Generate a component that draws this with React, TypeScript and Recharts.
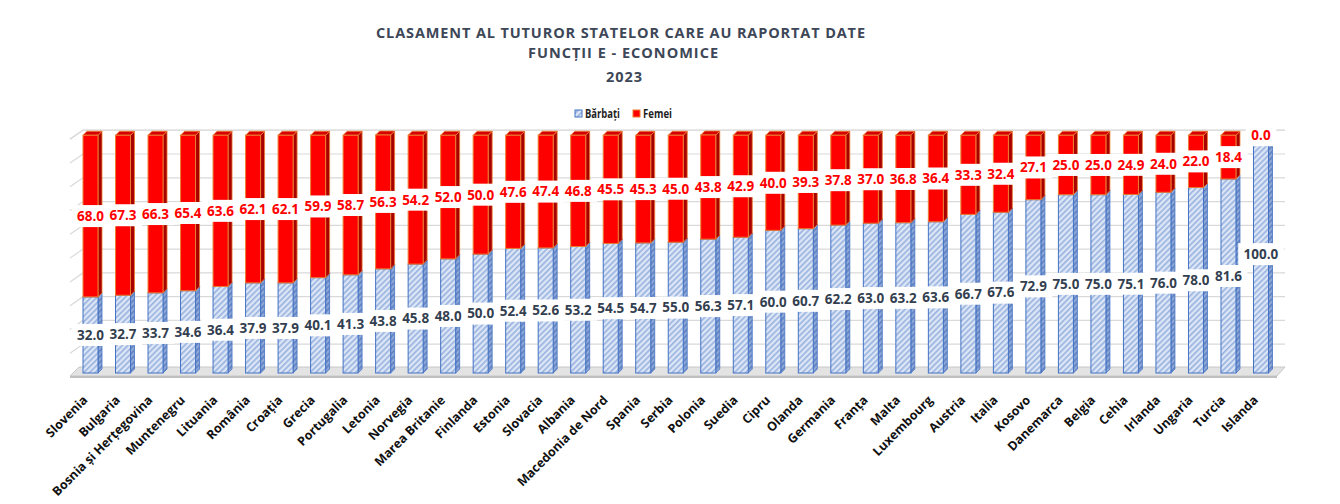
import React from 'react';
import { BarChart, Bar, XAxis, YAxis, CartesianGrid, LabelList } from 'recharts';

const countries = [
  'Slovenia', 'Bulgaria', 'Bosnia și Herțegovina', 'Muntenegru', 'Lituania', 'România', 'Croația',
  'Grecia', 'Portugalia', 'Letonia', 'Norvegia', 'Marea Britanie', 'Finlanda', 'Estonia', 'Slovacia',
  'Albania', 'Macedonia de Nord', 'Spania', 'Serbia', 'Polonia', 'Suedia', 'Cipru', 'Olanda',
  'Germania', 'Franța', 'Malta', 'Luxembourg', 'Austria', 'Italia', 'Kosovo', 'Danemarca', 'Belgia',
  'Cehia', 'Irlanda', 'Ungaria', 'Turcia', 'Islanda',
];

const barbati = [
  32.0, 32.7, 33.7, 34.6, 36.4, 37.9, 37.9, 40.1, 41.3, 43.8, 45.8, 48.0, 50.0, 52.4, 52.6, 53.2,
  54.5, 54.7, 55.0, 56.3, 57.1, 60.0, 60.7, 62.2, 63.0, 63.2, 63.6, 66.7, 67.6, 72.9, 75.0, 75.0,
  75.1, 76.0, 78.0, 81.6, 100.0,
];

const femei = [
  68.0, 67.3, 66.3, 65.4, 63.6, 62.1, 62.1, 59.9, 58.7, 56.3, 54.2, 52.0, 50.0, 47.6, 47.4, 46.8,
  45.5, 45.3, 45.0, 43.8, 42.9, 40.0, 39.3, 37.8, 37.0, 36.8, 36.4, 33.3, 32.4, 27.1, 25.0, 25.0,
  24.9, 24.0, 22.0, 18.4, 0.0,
];

const yTicks = [0, 10, 20, 30, 40, 50, 60, 70, 80, 90, 100];

const titleLines = [
  'CLASAMENT AL TUTUROR STATELOR CARE AU RAPORTAT DATE',
  'FUNCȚII E - ECONOMICE',
  '2023',
];

const data = countries.map((name, i) => ({ name, barbati: barbati[i], femei: femei[i] }));

const FONT = '"Open Sans", "Noto Sans", sans-serif';
const DEPTH = 4;
const GRID = '#d9d9d9';

const palette: Record<string, any> = {
  blue: { front: 'url(#hatchFront)', side: 'url(#hatchSide)', top: '#b4c7e7', stroke: '#4472c4' },
  red: { front: '#ff0000', side: '#a80000', top: '#d60000', stroke: '#ed7d31' },
};

function Box3D(props: any) {
  const { x, y, width: w, height: h, kind } = props;
  if (!(h > 0.5)) return null;
  const d = DEPTH;
  const c = palette[kind];
  return (
    <g>
      <polygon
        points={`${x + w},${y + h} ${x + w},${y} ${x + w + d},${y - d} ${x + w + d},${y + h - d}`}
        fill={c.side}
        stroke={c.stroke}
        strokeWidth={0.8}
      />
      <polygon
        points={`${x},${y} ${x + d},${y - d} ${x + w + d},${y - d} ${x + w},${y}`}
        fill={c.top}
        stroke={c.stroke}
        strokeWidth={0.8}
      />
      <rect x={x} y={y} width={w} height={h} fill={c.front} stroke={c.stroke} strokeWidth={1} />
    </g>
  );
}

const valueLabel = (color: string) => (p: any) => {
  const { x, y, width, height, value } = p;
  const cx = Number(x) + Number(width) / 2;
  const cy = Number(y) + Number(height) / 2;
  const txt = Number(value).toFixed(1);
  const w = txt.length * 7.5 + 8;
  return (
    <g>
      <rect x={cx - w / 2} y={cy - 11} width={w} height={22} fill="#ffffff" />
      <text
        x={cx}
        y={cy}
        dy="0.36em"
        textAnchor="middle"
        fontFamily={FONT}
        fontWeight={700}
        fontSize={13.5}
        fill={color}
      >
        {txt}
      </text>
    </g>
  );
};

function CountryTick(props: any) {
  const { x, y, payload } = props;
  const tx = x - 2;
  const ty = y + 28;
  return (
    <text
      x={tx}
      y={ty}
      transform={`rotate(-45 ${tx} ${ty})`}
      textAnchor="end"
      fontFamily={FONT}
      fontWeight={700}
      fontSize={12.5}
      fill="#111111"
    >
      {payload.value}
    </text>
  );
}

// back wall lines with a short slanted piece on the left, floor for the 0 line
function gridLine(p: any) {
  const { x1, x2, y1, y, height, index } = p;
  const bottom = y + height;
  if (Math.abs(y1 - bottom) < 1) {
    return (
      <g key={`floor-${index}`}>
        <polygon
          points={`${x1 - 4},${y1 + 3} ${x1 + 5},${y1 - 6} ${x2 + 8},${y1 - 6} ${x2},${y1 + 3}`}
          fill="#e3e3e3"
          stroke="#c8c8c8"
          strokeWidth={1}
        />
        <rect x={x1 - 4} y={y1 + 3} width={x2 - x1 + 4} height={2} fill="#bfbfbf" />
      </g>
    );
  }
  return (
    <polyline
      key={`grid-${index}`}
      points={`${x1 - 4},${y1 + 4} ${x1 + 9},${y1 - 5} ${x2 + 8},${y1 - 5}`}
      fill="none"
      stroke={GRID}
      strokeWidth={1.2}
    />
  );
}

export default function App() {
  return (
    <div
      style={{
        position: 'relative',
        width: 1328,
        height: 497,
        margin: '-2px 0 0 -2px',
        border: '1px solid #d9d9d9',
        background: '#ffffff',
        overflow: 'hidden',
      }}
    >
      <BarChart
        width={1328}
        height={497}
        data={data}
        margin={{ top: 128, right: 58, left: 67, bottom: 11 }}
        barSize={15}
      >
        <CartesianGrid vertical={false} horizontal={gridLine} />
        <XAxis
          dataKey="name"
          interval={0}
          height={120}
          tickLine={false}
          axisLine={false}
          tickSize={0}
          tickMargin={0}
          tick={<CountryTick />}
        />
        <YAxis hide domain={[0, 100]} ticks={yTicks} />
        <Bar
          dataKey="barbati"
          name="Bărbați"
          stackId="s"
          isAnimationActive={false}
          shape={(p: any) => <Box3D {...p} kind="blue" />}
        >
          <LabelList dataKey="barbati" content={valueLabel('#333f50')} />
        </Bar>
        <Bar
          dataKey="femei"
          name="Femei"
          stackId="s"
          isAnimationActive={false}
          shape={(p: any) => <Box3D {...p} kind="red" />}
        >
          <LabelList dataKey="femei" content={valueLabel('#ff0000')} />
        </Bar>
      </BarChart>

      <svg
        width={1328}
        height={122}
        style={{ position: 'absolute', left: 0, top: 0, pointerEvents: 'none' }}
      >
        <defs>
          <pattern id="hatchFront" patternUnits="userSpaceOnUse" width="4" height="4" patternTransform="rotate(45)">
            <rect width="4" height="4" fill="#dce6f6" />
            <rect width="1.6" height="4" fill="#97b1de" />
          </pattern>
          <pattern id="hatchSide" patternUnits="userSpaceOnUse" width="4" height="4" patternTransform="rotate(45)">
            <rect width="4" height="4" fill="#8ea8d8" />
            <rect width="1.6" height="4" fill="#5c7fc0" />
          </pattern>
        </defs>
        <g fontFamily={FONT} fontWeight={700} fill="#3d4757" fontSize={14.5}>
          <text x={613.5} y={30.7} textAnchor="middle" textLength={489} lengthAdjust="spacing">
            {titleLines[0]}
          </text>
          <text x={616} y={51.3} textAnchor="middle" textLength={190} lengthAdjust="spacing">
            {titleLines[1]}
          </text>
          <text x={617} y={74.7} textAnchor="middle" textLength={36} lengthAdjust="spacing">
            {titleLines[2]}
          </text>
        </g>
        <g fontFamily={FONT} fontWeight={700} fontSize={12.5} fill="#1f1f1f">
          <rect x={568} y={103} width={7} height={7} fill="url(#hatchFront)" stroke="#4472c4" strokeWidth={1} />
          <text x={578} y={110.5} textLength={35} lengthAdjust="spacingAndGlyphs">Bărbați</text>
          <rect x={626} y={103} width={7} height={7} fill="#ff0000" stroke="#ed7d31" strokeWidth={1} />
          <text x={636} y={110.5} textLength={29} lengthAdjust="spacingAndGlyphs">Femei</text>
        </g>
      </svg>
    </div>
  );
}
